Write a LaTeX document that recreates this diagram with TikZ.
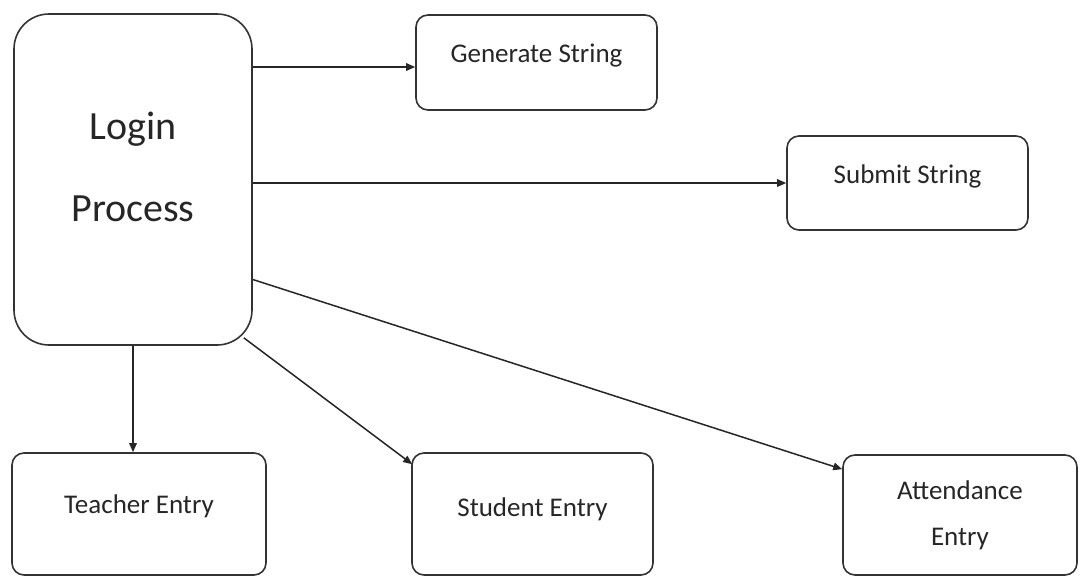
\documentclass[tikz,border=0pt]{standalone}
\usepackage{fontspec}
\setmainfont{Carlito}
\usetikzlibrary{arrows.meta}
\begin{document}
\begin{tikzpicture}[x=1pt,y=-1pt,
  box/.style={draw=black!80, line width=1.6pt, rounded corners=12pt, inner sep=0pt,
    font=\fontsize{27}{46}\selectfont, text=black!85},
  arr/.style={draw=black!85, line width=1.5pt, -{Triangle[length=9pt,width=7.5pt]}}]
\useasboundingbox (0,0) rectangle (1081,576);

% process box, its two lines set a little above the middle
\node[box, rounded corners=35pt, minimum width=238pt, minimum height=331pt,
  font=\fontsize{40}{82}\selectfont] (login) at (133,179.5)
  {\raisebox{-41.5pt}[0pt][0pt]{\begin{tabular}[b]{@{}c@{}}Login\\Process\end{tabular}}};

% the five boxes it leads to
\node[box, minimum width=241pt, minimum height=95pt, text height=17.5pt, text depth=17pt]
  (gen) at (536.5,62.5) {Generate String};
\node[box, minimum width=241pt, minimum height=94pt, text height=17.5pt, text depth=17pt]
  (sub) at (907.5,183) {Submit String};
\node[box, minimum width=254pt, minimum height=122pt, text height=17.5pt, text depth=18pt]
  (teach) at (139,514) {Teacher Entry};
\node[box, minimum width=241pt, minimum height=122pt, text height=17.5pt, text depth=13pt]
  (stu) at (532.5,514) {Student Entry};
\node[box, minimum width=234pt, minimum height=120pt, align=center]
  (att) at (960,515) {Attendance\\Entry};

% connectors
\draw[arr] ([yshift=-4.5pt]login.east |- gen.west) -- ([yshift=-4.5pt]gen.west);
\draw[arr] (login.east |- sub.west) -- (sub.west);
\draw[arr] (login.south) -- (login.south |- teach.north);
\draw[arr] ([shift={(-9pt,8pt)}]login.south east) -- ([shift={(1pt,-12pt)}]stu.north west);
\draw[arr] ([yshift=-100pt]login.east) -- ([yshift=-15pt]att.north west);
\end{tikzpicture}
\end{document}
